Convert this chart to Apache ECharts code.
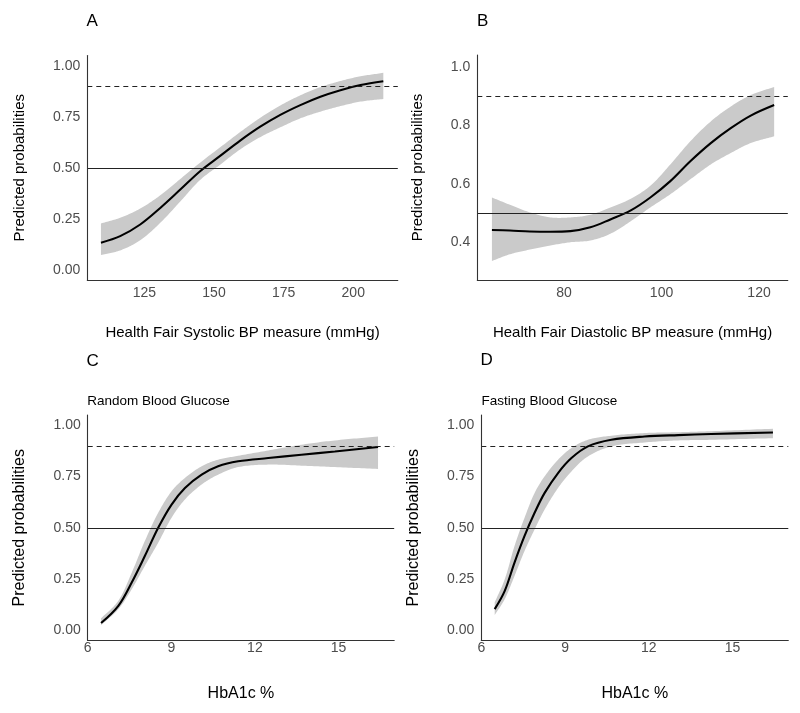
<!DOCTYPE html>
<html>
<head>
<meta charset="utf-8">
<script src="https://cdn.jsdelivr.net/npm/echarts@6/dist/echarts.min.js"></script>
<style>
  html, body { margin: 0; padding: 0; background: #fff; }
  #chart { width: 800px; height: 713px; }
</style>
</head>
<body>
<div id="chart"></div>
<script>
// ---------- Data ----------
// Panel A: Systolic BP
const sysX     = [109.4, 116.3, 123.5, 130.7, 137.9, 145.0, 152.2, 159.4, 166.6, 173.8, 181.0, 188.2, 195.4, 202.6, 210.8];
const sysFit   = [0.133, 0.165, 0.222, 0.303, 0.393, 0.483, 0.558, 0.633, 0.701, 0.759, 0.807, 0.848, 0.880, 0.905, 0.924];
const sysUpper = [0.227, 0.255, 0.300, 0.365, 0.445, 0.525, 0.600, 0.675, 0.745, 0.805, 0.855, 0.895, 0.925, 0.948, 0.965];
const sysLower = [0.072, 0.095, 0.145, 0.230, 0.335, 0.440, 0.515, 0.590, 0.650, 0.698, 0.742, 0.775, 0.802, 0.824, 0.837];

// Panel B: Diastolic BP
const diaX     = [65.2, 68.9, 73.0, 77.2, 81.3, 85.4, 89.5, 93.6, 97.7, 101.8, 105.9, 110.1, 114.2, 118.3, 123.1];
const diaFit   = [0.442, 0.440, 0.437, 0.436, 0.438, 0.451, 0.478, 0.508, 0.553, 0.609, 0.677, 0.739, 0.790, 0.833, 0.869];
const diaUpper = [0.553, 0.528, 0.502, 0.485, 0.485, 0.494, 0.519, 0.548, 0.593, 0.666, 0.745, 0.813, 0.864, 0.903, 0.931];
const diaLower = [0.336, 0.359, 0.375, 0.389, 0.400, 0.406, 0.429, 0.471, 0.519, 0.564, 0.615, 0.666, 0.705, 0.739, 0.762];

// Panel C: HbA1c, Random Blood Glucose
const rbgX     = [6.48, 7.10, 7.58, 8.05, 8.53, 9.01, 9.49, 10.09, 10.68, 11.40, 12.48, 13.67, 14.87, 16.42];
const rbgFit   = [0.035, 0.119, 0.233, 0.362, 0.500, 0.613, 0.694, 0.759, 0.800, 0.824, 0.840, 0.856, 0.872, 0.894];
const rbgUpper = [0.058, 0.144, 0.281, 0.435, 0.573, 0.678, 0.743, 0.800, 0.832, 0.851, 0.877, 0.905, 0.926, 0.945];
const rbgLower = [0.025, 0.103, 0.200, 0.314, 0.427, 0.549, 0.638, 0.711, 0.759, 0.796, 0.808, 0.803, 0.796, 0.787];

// Panel D: HbA1c, Fasting Blood Glucose
const fbgX     = [6.48, 6.84, 7.19, 7.55, 7.91, 8.27, 8.75, 9.23, 9.82, 10.66, 11.85, 13.05, 14.24, 16.45];
const fbgFit   = [0.103, 0.192, 0.330, 0.460, 0.573, 0.670, 0.767, 0.840, 0.897, 0.929, 0.945, 0.952, 0.957, 0.965];
const fbgUpper = [0.136, 0.249, 0.411, 0.549, 0.670, 0.751, 0.832, 0.889, 0.929, 0.949, 0.962, 0.966, 0.971, 0.983];
const fbgLower = [0.074, 0.152, 0.265, 0.387, 0.492, 0.589, 0.694, 0.775, 0.848, 0.897, 0.916, 0.926, 0.929, 0.937];

// Tick labels
const ticksSysX = [125, 150, 175, 200];
const ticksDiaX = [80, 100, 120];
const ticksHbX  = [6, 9, 12, 15];
const ticksProb = [0, 0.25, 0.5, 0.75, 1];
const ticksDiaY = [0.4, 0.6, 0.8, 1.0];

// Reference lines
const refSolid = 0.5;
const refDashed = 0.9;

// Texts
const panelTags = ['A', 'B', 'C', 'D'];
const subtitles = ['Random Blood Glucose', 'Fasting Blood Glucose'];
const xNames = ['Health Fair Systolic BP measure (mmHg)', 'Health Fair Diastolic BP measure (mmHg)', 'HbA1c %', 'HbA1c %'];
const yName = 'Predicted probabilities';

// ---------- Chart ----------
const FONT = '"Liberation Sans", Arial, sans-serif';
const chart = echarts.init(document.getElementById('chart'), null, { renderer: 'canvas' });

const panels = [
  { x: sysX, fit: sysFit, up: sysUpper, lo: sysLower },
  { x: diaX, fit: diaFit, up: diaUpper, lo: diaLower },
  { x: rbgX, fit: rbgFit, up: rbgUpper, lo: rbgLower },
  { x: fbgX, fit: fbgFit, up: fbgUpper, lo: fbgLower }
];

const grids = [
  { left: 87.3, top: 55.5, width: 310.5, height: 224.5 },
  { left: 477.3, top: 55, width: 310.5, height: 225 },
  { left: 87.7, top: 415, width: 306.5, height: 225.5 },
  { left: 481.3, top: 415, width: 307, height: 225.5 }
];

const axisLineStyle = { color: '#333', width: 1.1 };
const tickLabelStyle = { color: '#4d4d4d', fontSize: 14, fontFamily: FONT };

const xCfg = [
  { min: 104.5, max: 216, ticks: ticksSysX, margin: 6, nameGap: 45, nameSize: 15 },
  { min: 62.2, max: 125.9, ticks: ticksDiaX, margin: 6, nameGap: 45, nameSize: 15 },
  { min: 6, max: 17, ticks: ticksHbX, margin: 1, nameGap: 45, nameSize: 16 },
  { min: 6, max: 17, ticks: ticksHbX, margin: 1, nameGap: 45, nameSize: 16 }
];
const yCfg = [
  { min: -0.05, max: 1.05, ticks: ticksProb, dec: 2, nameGap: 60, nameSize: 15 },
  { min: 0.271, max: 1.04, ticks: ticksDiaY, dec: 1, nameGap: 52, nameSize: 15 },
  { min: -0.05, max: 1.05, ticks: ticksProb, dec: 2, nameGap: 60, nameSize: 16 },
  { min: -0.05, max: 1.05, ticks: ticksProb, dec: 2, nameGap: 60, nameSize: 16 }
];

const xAxes = xCfg.map((c, i) => ({
  type: 'value', gridIndex: i, min: c.min, max: c.max, z: 10,
  name: xNames[i], nameLocation: 'middle', nameGap: c.nameGap,
  nameTextStyle: { color: '#000', fontSize: c.nameSize, fontFamily: FONT },
  axisLine: { show: true, onZero: false, lineStyle: axisLineStyle },
  axisTick: { show: false },
  splitLine: { show: false },
  axisLabel: Object.assign({ customValues: c.ticks, margin: c.margin }, tickLabelStyle)
}));

const yAxes = yCfg.map((c, i) => ({
  type: 'value', gridIndex: i, min: c.min, max: c.max, z: 10,
  name: yName, nameLocation: 'middle', nameGap: c.nameGap, nameRotate: 90,
  nameTextStyle: { color: '#000', fontSize: c.nameSize, fontFamily: FONT },
  axisLine: { show: true, onZero: false, lineStyle: axisLineStyle },
  axisTick: { show: false },
  splitLine: { show: false },
  axisLabel: Object.assign({ customValues: c.ticks, margin: 7, formatter: v => Number(v).toFixed(c.dec) }, tickLabelStyle)
}));

const SMOOTH = 0.35;

// Pixel-space bezier smoothing (same idea as ECharts line smoothing)
function smoothPixels(pts, smooth) {
  const n = pts.length;
  const cps = pts.map((p, i) => {
    const prev = pts[Math.max(i - 1, 0)], next = pts[Math.min(i + 1, n - 1)];
    const vx = next[0] - prev[0], vy = next[1] - prev[1];
    const l0 = Math.hypot(p[0] - prev[0], p[1] - prev[1]);
    const l1 = Math.hypot(next[0] - p[0], next[1] - p[1]);
    const r = (l0 + l1) > 0 ? l1 / (l0 + l1) : 0.5;
    return {
      out: [p[0] + vx * smooth * r, p[1] + vy * smooth * r],
      inn: [p[0] - vx * smooth * (1 - r), p[1] - vy * smooth * (1 - r)]
    };
  });
  const res = [pts[0]];
  for (let i = 0; i < n - 1; i++) {
    const p0 = pts[i], p3 = pts[i + 1], c1 = cps[i].out, c2 = cps[i + 1].inn;
    for (let s = 1; s <= 16; s++) {
      const t = s / 16, u = 1 - t;
      res.push([
        u * u * u * p0[0] + 3 * u * u * t * c1[0] + 3 * u * t * t * c2[0] + t * t * t * p3[0],
        u * u * u * p0[1] + 3 * u * u * t * c1[1] + 3 * u * t * t * c2[1] + t * t * t * p3[1]
      ]);
    }
  }
  return res;
}

const series = [];
panels.forEach((p, i) => {
  // confidence band (grey ribbon), built through the axes' coordinate conversion
  series.push({
    type: 'custom', xAxisIndex: i, yAxisIndex: i, z: 1, silent: true,
    data: p.x.map((x, k) => [x, p.lo[k], p.up[k]]),
    encode: { x: 0, y: [1, 2] },
    renderItem: function (params, api) {
      if (params.dataIndex !== 0) return null;
      const up = p.x.map((x, k) => api.coord([x, p.up[k]]));
      const lo = p.x.map((x, k) => api.coord([x, p.lo[k]]));
      const upS = smoothPixels(up, SMOOTH);
      const loS = smoothPixels(lo, SMOOTH).reverse();
      return {
        type: 'polygon',
        shape: { points: upS.concat(loS) },
        style: { fill: '#cacaca', stroke: null }
      };
    }
  });
  // reference lines + fitted curve
  series.push({
    type: 'line', xAxisIndex: i, yAxisIndex: i, z: 4,
    data: p.x.map((x, k) => [x, p.fit[k]]),
    smooth: SMOOTH, showSymbol: false, silent: true,
    lineStyle: { color: '#000', width: 2.1 },
    markLine: {
      silent: true, symbol: 'none', label: { show: false }, animation: false,
      data: [
        { yAxis: refSolid, lineStyle: { color: '#222', width: 1, type: 'solid' } },
        { yAxis: refDashed, lineStyle: { color: '#222', width: 1, type: [5, 4] } }
      ]
    }
  });
});

const titles = [
  { text: panelTags[0], left: 86.5, top: 13 },
  { text: panelTags[1], left: 477, top: 13 },
  { text: panelTags[2], left: 86.5, top: 353 },
  { text: panelTags[3], left: 480.5, top: 352 }
].map(t => Object.assign(t, { textStyle: { fontSize: 17, fontWeight: 'normal', color: '#000', fontFamily: FONT }, padding: 0 }));
titles.push({ text: subtitles[0], left: 87.3, top: 394.5, padding: 0, textStyle: { fontSize: 13.5, fontWeight: 'normal', color: '#000', fontFamily: FONT } });
titles.push({ text: subtitles[1], left: 481.5, top: 394.5, padding: 0, textStyle: { fontSize: 13.5, fontWeight: 'normal', color: '#000', fontFamily: FONT } });

chart.setOption({
  animation: false,
  backgroundColor: '#fff',
  title: titles,
  grid: grids,
  xAxis: xAxes,
  yAxis: yAxes,
  series: series
});
</script>
</body>
</html>
